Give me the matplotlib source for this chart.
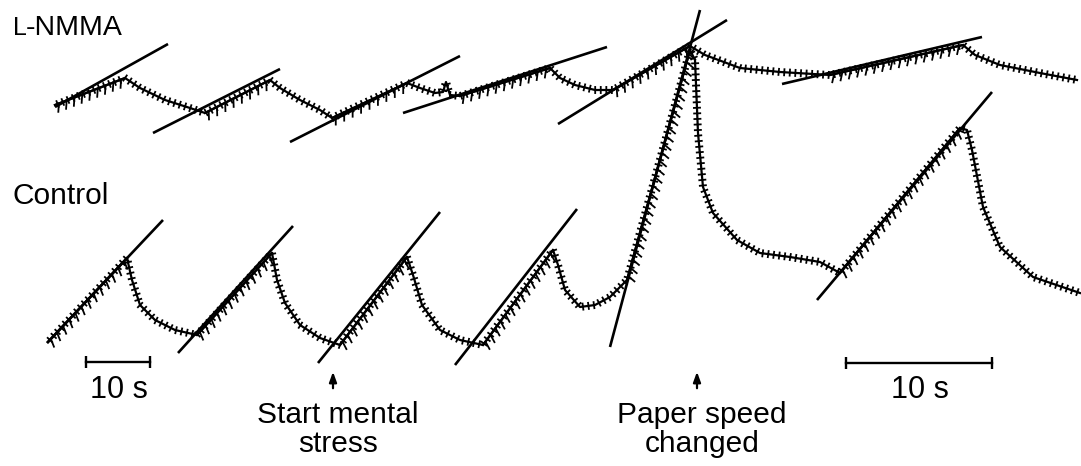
import matplotlib
matplotlib.use("Agg")
import matplotlib.pyplot as plt
import matplotlib.patheffects as pe

plt.rcParams['font.family'] = ['Liberation Sans', 'DejaVu Sans']

# L-NMMA recording (x, y in pixels of the original tracing)
nmma_x = [55, 125, 140, 165, 190, 205, 270, 280, 300, 320, 332, 407, 420, 435, 443, 446, 450,
          460, 550, 560, 575, 595, 613, 690, 705, 740, 780, 830, 963, 975, 1000, 1040, 1077]
nmma_y = [105, 78, 88, 100, 108, 113, 80, 88, 100, 110, 118, 83, 88, 93, 92, 82, 95,
          96, 68, 78, 85, 90, 90, 46, 55, 68, 72, 75, 45, 55, 65, 73, 80]
nmma_rises = [(0, 1), (5, 6), (10, 11), (17, 18), (22, 23), (27, 28)]

# control recording
ctrl_x = [48, 127, 132, 140, 155, 175, 197, 272, 277, 285, 300, 320, 340, 407, 413, 422, 440,
          460, 483, 553, 558, 565, 580, 595, 610, 627, 690, 695, 698, 703, 713, 737, 760,
          790, 820, 840, 960, 967, 972, 983, 1000, 1033, 1080]
ctrl_y = [342, 258, 280, 305, 320, 330, 335, 253, 280, 303, 325, 338, 345, 257, 275, 305, 330,
          340, 345, 250, 265, 290, 307, 305, 297, 280, 50, 60, 133, 187, 213, 240, 253,
          257, 262, 273, 128, 130, 150, 207, 247, 277, 293]
ctrl_rises = [(0, 1), (6, 7), (12, 13), (18, 19), (25, 26), (35, 36)]

# slope lines fitted to the upstrokes (x0, y0, x1, y1)
nmma_fits = [(55, 107, 168, 44), (153, 133, 280, 69), (290, 142, 460, 56),
             (403, 113, 607, 47), (558, 124, 727, 20), (782, 84, 982, 37)]
ctrl_fits = [(47, 343, 163, 220), (178, 353, 293, 226), (318, 363, 440, 212),
             (455, 365, 577, 209), (610, 347, 700, 10), (817, 300, 992, 92)]

fig = plt.figure(figsize=(10.81, 4.66), dpi=100)
ax = fig.add_axes([0, 0, 1, 1])
ax.set_xlim(0, 1081)
ax.set_ylim(466, 0)
ax.axis('off')

ripple = [pe.Stroke(linewidth=1.6, foreground='black'),
          pe.TickedStroke(spacing=4, length=0.55, angle=90, linewidth=1.3),
          pe.TickedStroke(spacing=4, length=0.55, angle=-90, linewidth=1.3)]
teeth = [pe.Stroke(linewidth=1.6, foreground='black'),
         pe.TickedStroke(spacing=6, length=1.0, angle=-115, linewidth=1.3)]

for xs, ys, rises in [(nmma_x, nmma_y, nmma_rises), (ctrl_x, ctrl_y, ctrl_rises)]:
    ax.plot(xs, ys, color='black', lw=1.6, path_effects=ripple)
    for i0, i1 in rises:
        ax.plot(xs[i0:i1 + 1], ys[i0:i1 + 1], color='black', lw=1.6, path_effects=teeth)

for x0, y0, x1, y1 in nmma_fits + ctrl_fits:
    ax.plot([x0, x1], [y0, y1], color='black', lw=1.9, solid_capstyle='butt')

# labels
ax.text(13, 35, 'L', fontsize=18, ha='left', va='baseline')
ax.text(26, 35, '-NMMA', fontsize=20.5, ha='left', va='baseline')
ax.text(12, 204, 'Control', fontsize=21.5, ha='left', va='baseline')

# time bars
bars = [(86, 150, 362, '10 s'), (846, 992, 363, '10 s')]
for x0, x1, y, lab in bars:
    ax.plot([x0, x1], [y, y], color='black', lw=1.7)
    ax.plot([x0, x1], [y, y], ls='none', marker='|', ms=8, mew=1.7, color='black')
    ax.text((x0 + x1) / 2 + 1, 398, lab, fontsize=22, ha='center', va='baseline')

# event markers
events = [(333, 'Start mental\nstress'), (697, 'Paper speed\nchanged')]
for x, lab in events:
    ax.annotate('', xy=(x, 369), xytext=(x, 391),
                arrowprops=dict(arrowstyle='-|>,head_length=0.6,head_width=0.22',
                                color='black', lw=1.6))
    ax.text(x + 5, 401, lab, fontsize=21.5, ha='center', va='top', linespacing=1.05)

fig.savefig('out.png', dpi=100)
